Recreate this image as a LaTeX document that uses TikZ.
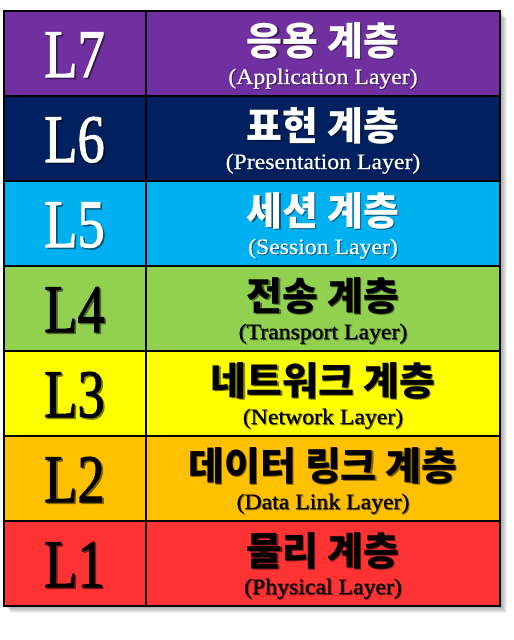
\documentclass[tikz,border=0pt]{standalone}
\usepackage{fontspec}
\setmainfont{Liberation Serif}
\newfontfamily\labfont{Liberation Serif}[FakeBold=1.6]
\newfontfamily\enfont{Liberation Serif}[FakeBold=0.6]
\newfontfamily\kofont{Noto Sans CJK KR}
\definecolor{c7}{HTML}{7030A0}
\definecolor{c6}{HTML}{002060}
\definecolor{c5}{HTML}{00B0F0}
\definecolor{c4}{HTML}{92D050}
\definecolor{c3}{HTML}{FFFF00}
\definecolor{c2}{HTML}{FFC000}
\definecolor{c1}{HTML}{FF3333}
\newcommand\shadowed[3]{\leavevmode\rlap{\kern#3\raisebox{-#3}{\color{#2}#1}}#1}
\tikzset{
  numcell/.style={anchor=north west, minimum width=142pt, minimum height=85pt, inner sep=0pt, outer sep=0pt},
  namecell/.style={anchor=north west, minimum width=354pt, minimum height=85pt, inner sep=0pt, outer sep=0pt},
  labtxt/.style={anchor=base, inner sep=0pt, font=\labfont\fontsize{68}{70}\selectfont},
  kotxt/.style={anchor=base, inner sep=0pt, font=\kofont\bfseries\fontsize{39}{41}\selectfont},
  entxt/.style={anchor=base, inner sep=0pt, font=\enfont\fontsize{22}{24}\selectfont},
  gridline/.style={draw=black, line width=2pt}
}
\begin{document}
\begin{tikzpicture}[x=1pt,y=-1pt]
\useasboundingbox (0,0) rectangle (514,640);
% table shadow
\foreach \k in {1,...,7}{
  \fill[black, opacity=0.06] (4+\k,11+\k) rectangle (500+\k,606+\k);
}
\foreach [count=\n] \lab/\ko/\en/\fc/\tc in {
  L7/응용 계층/Application Layer/c7/white,
  L6/표현 계층/Presentation Layer/c6/white,
  L5/세션 계층/Session Layer/c5/white,
  L4/전송 계층/Transport Layer/c4/black,
  L3/네트워크 계층/Network Layer/c3/black,
  L2/데이터 링크 계층/Data Link Layer/c2/black,
  L1/물리 계층/Physical Layer/c1/black}{
  \pgfmathsetmacro\top{11+85*(\n-1)}
  \node[numcell, fill=\fc] (num\n) at (4,\top) {};
  \node[namecell, fill=\fc] (name\n) at (146,\top) {};
  \node[labtxt, text=\tc] (lab\n) at (74.5,\top+66) {\shadowed{\scalebox{0.8}[1]{\lab}}{\fc!50!black}{1.6pt}};
  \node[kotxt, text=\tc] (ko\n) at (323,\top+44) {\shadowed{\ko}{\fc!50!black}{1.3pt}};
  \node[entxt, text=\tc] (en\n) at (323,\top+73) {\shadowed{\scalebox{1.08}[1]{(\en)}}{\fc!55!black}{1pt}};
}
% grid
\foreach \n in {2,...,7}{
  \draw[gridline] (num\n.north west) -- (name\n.north east);
}
\draw[gridline] (num1.north east) -- (num7.south east);
\draw[gridline] (num1.north west) rectangle (name7.south east);
\end{tikzpicture}
\end{document}
